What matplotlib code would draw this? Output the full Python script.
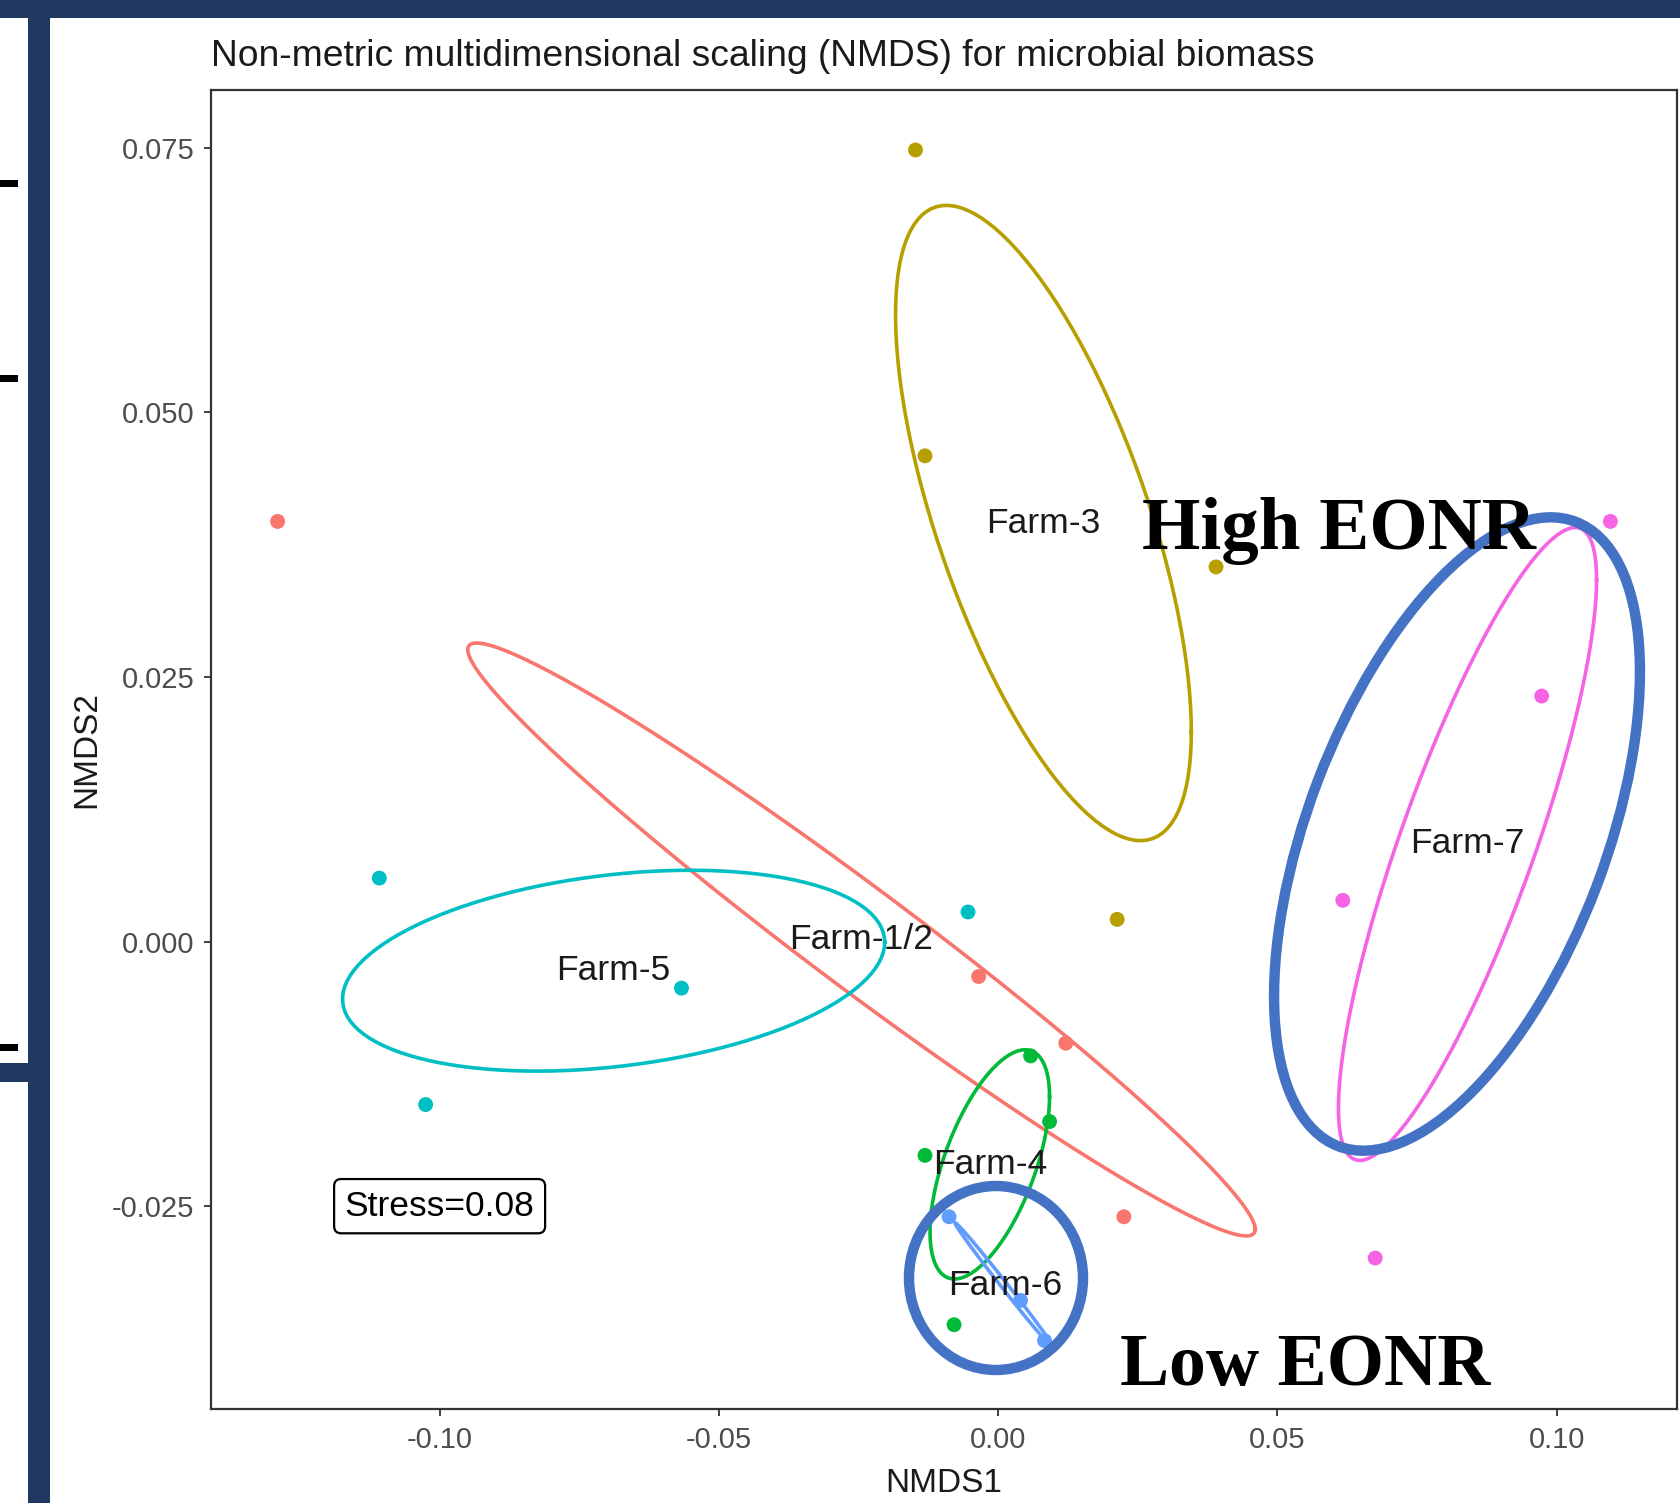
import numpy as np
import matplotlib.pyplot as plt
from matplotlib.patches import Ellipse, Rectangle

# NMDS scores
farms = ["Farm-1/2", "Farm-3", "Farm-4", "Farm-5", "Farm-6", "Farm-7"]
colors = ["#F8766D", "#B79F00", "#00BA38", "#00BFC4", "#619CFF", "#F564E3"]

farm12_x = [-0.1290, -0.0035, 0.0121, 0.0225]
farm12_y = [0.0397, -0.0033, -0.0096, -0.0260]
farm3_x = [-0.0148, -0.0131, 0.0390, 0.0213]
farm3_y = [0.0748, 0.0459, 0.0354, 0.0021]
farm4_x = [0.0058, 0.0092, -0.0131, -0.0079]
farm4_y = [-0.0108, -0.0170, -0.0202, -0.0362]
farm5_x = [-0.1108, -0.0054, -0.0567, -0.1025]
farm5_y = [0.0060, 0.0028, -0.0044, -0.0154]
farm6_x = [-0.0088, 0.0040, 0.0083]
farm6_y = [-0.0260, -0.0339, -0.0377]
farm7_x = [0.1096, 0.0973, 0.0617, 0.0675]
farm7_y = [0.0397, 0.0232, 0.0039, -0.0299]

xs = [farm12_x, farm3_x, farm4_x, farm5_x, farm6_x, farm7_x]
ys = [farm12_y, farm3_y, farm4_y, farm5_y, farm6_y, farm7_y]
stress = 0.08

W, H = 1681, 1503
navy = "#213863"
ann_blue = "#4472C4"


def sd_ellipse(x, y, n=120):
    # 1-sd covariance ellipse like vegan::ordiellipse(kind="sd")
    cov = np.cov(x, y)
    Q = np.linalg.cholesky(cov)
    t = np.linspace(0, 2 * np.pi, n)
    circ = np.column_stack([np.cos(t), np.sin(t)])
    return circ @ Q.T + [np.mean(x), np.mean(y)]


fig = plt.figure(figsize=(W / 100, H / 100), dpi=100)
fig.patch.set_facecolor("white")
ax = fig.add_axes([211 / W, 1 - 1409 / H, (1677 - 211) / W, (1409 - 90) / H])

all_x, all_y = [], []
for x, y, c, name in zip(xs, ys, colors, farms):
    ell = sd_ellipse(x, y)
    ax.plot(ell[:, 0], ell[:, 1], color=c, lw=2.6, zorder=2)
    ax.scatter(x, y, s=115, color=c, edgecolors="none", zorder=3)
    ax.text(np.mean(x), np.mean(y), name, ha="center", va="center",
            fontsize=25.5, color="#1a1a1a", family="Liberation Sans", zorder=4)
    all_x += list(x) + list(ell[:, 0])
    all_y += list(y) + list(ell[:, 1])

# ggplot-style 5% expansion
xr = max(all_x) - min(all_x)
yr = max(all_y) - min(all_y)
ax.set_xlim(min(all_x) - 0.05 * xr, max(all_x) + 0.05 * xr)
ax.set_ylim(min(all_y) - 0.05 * yr, max(all_y) + 0.05 * yr)

ax.text(-0.10, -0.025, "Stress=%.2f" % stress, ha="center", va="center",
        fontsize=25.5, color="black", family="Liberation Sans", zorder=4,
        bbox=dict(boxstyle="round,pad=0.3,rounding_size=0.2", fc="white",
                  ec="black", lw=1.6))

ax.set_xticks([-0.10, -0.05, 0.00, 0.05, 0.10])
ax.set_xticklabels(["-0.10", "-0.05", "0.00", "0.05", "0.10"])
ax.set_yticks([-0.025, 0.000, 0.025, 0.050, 0.075])
ax.set_yticklabels(["-0.025", "0.000", "0.025", "0.050", "0.075"])
ax.tick_params(direction="out", length=5, width=1.3, color="#333333",
               labelsize=21, labelcolor="#4D4D4D", pad=7)
for lab in ax.get_xticklabels() + ax.get_yticklabels():
    lab.set_family("Liberation Sans")
for sp in ax.spines.values():
    sp.set_color("#333333")
    sp.set_linewidth(1.6)
ax.set_xlabel("NMDS1", fontsize=24, family="Liberation Sans", color="#1a1a1a", labelpad=10)
ax.set_ylabel("NMDS2", fontsize=24, family="Liberation Sans", color="#1a1a1a", labelpad=7)

fig.text(211 / W, 1 - 57 / H, "Non-metric multidimensional scaling (NMDS) for microbial biomass",
         ha="left", va="center", fontsize=26.8, color="#1a1a1a", family="Liberation Sans")

# overlay in pixel coordinates: slide frame and hand-drawn annotations
ov = fig.add_axes([0, 0, 1, 1], zorder=5)
ov.set_xlim(0, W)
ov.set_ylim(H, 0)
ov.axis("off")
ov.patch.set_alpha(0)

ov.add_patch(Rectangle((0, 0), W, 18, color=navy, lw=0))
ov.add_patch(Rectangle((28, 18), 22, H, color=navy, lw=0))
ov.add_patch(Rectangle((0, 1063), 28, 19, color=navy, lw=0))
for yy in [180, 375, 1044]:
    ov.add_patch(Rectangle((0, yy), 18, 7, color="black", lw=0))

ov.add_patch(Ellipse((1457, 834), width=668, height=298, angle=-69.2,
                     fill=False, ec=ann_blue, lw=7.5))
ov.add_patch(Ellipse((996, 1278), width=174, height=184, angle=0,
                     fill=False, ec=ann_blue, lw=7.5))

ov.text(1142, 549, "High EONR", ha="left", va="baseline", fontsize=54,
        fontweight="bold", family="Liberation Serif", color="black")
ov.text(1120, 1385, "Low EONR", ha="left", va="baseline", fontsize=53,
        fontweight="bold", family="Liberation Serif", color="black")

fig.savefig("out.png", dpi=100)
